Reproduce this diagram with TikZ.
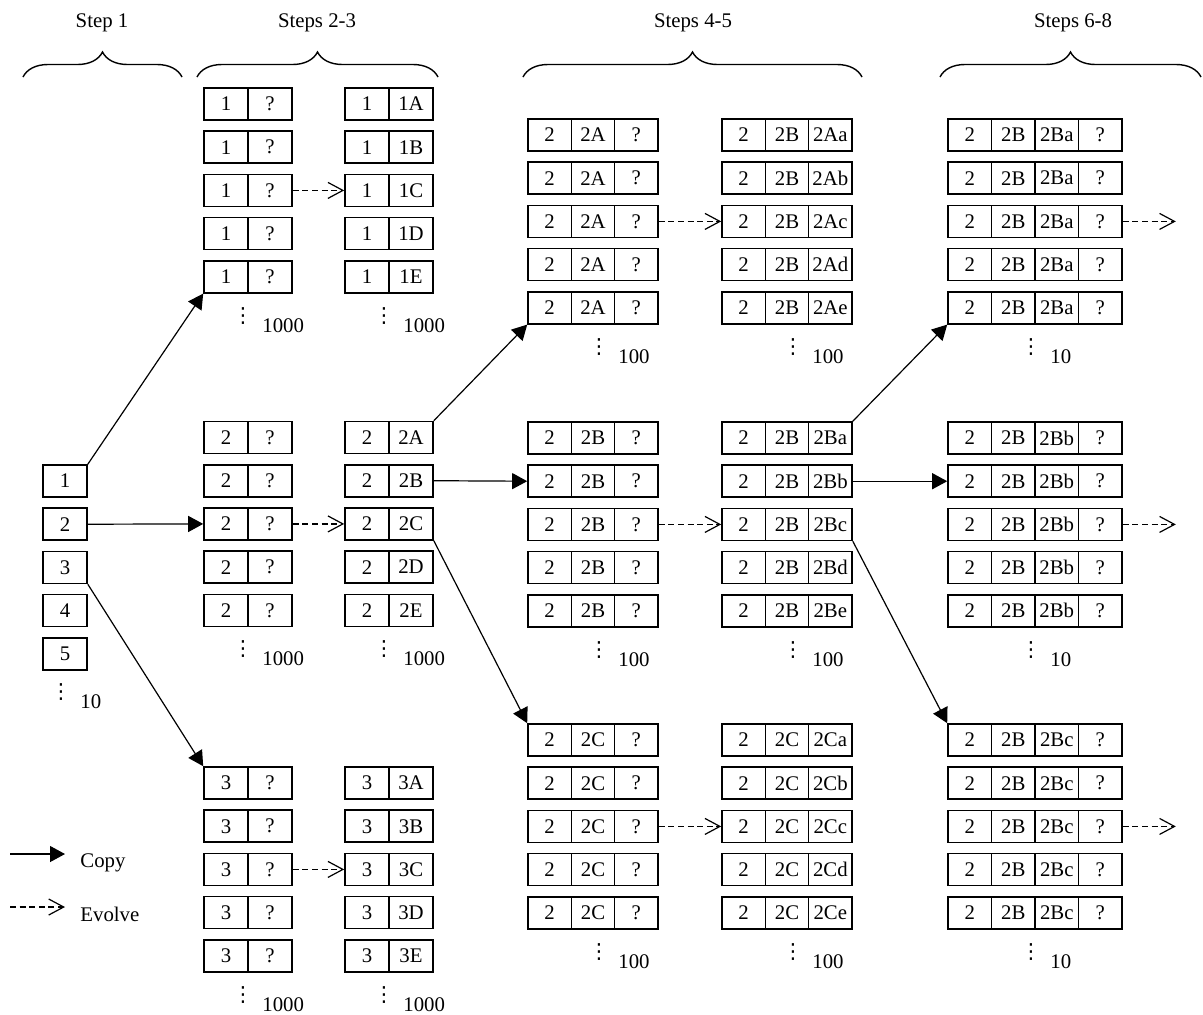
\documentclass[tikz,border=0pt]{standalone}
\usepackage{fontspec}
\setmainfont{Liberation Serif}
\newfontfamily\dotfont{DejaVu Sans}
\usetikzlibrary{arrows.meta,positioning,decorations.pathreplacing}

\tikzset{
  cell/.style={draw,line width=0.8pt,minimum height=16pt,inner sep=0pt},
  copyarrow/.style={line width=0.6pt,-{Triangle[length=7.5pt,width=8pt]}},
  evolvearrow/.style={line width=0.6pt,dash pattern=on 3pt off 1.8pt,-{Straight Barb[length=7.5pt,width=8pt,line width=0.6pt]}},
  stepbrace/.style={decorate,decoration={brace,amplitude=12.5pt},line width=0.7pt},
  vdotnode/.style={anchor=base,inner sep=0pt,font=\dotfont\fontsize{10.4}{12}\selectfont},
  countnode/.style={anchor=base west,inner sep=0pt},
}

% one column of five rows: name, left x, first row y, cell width, cell texts
\newcommand{\cellcol}[5]{%
  \foreach \r/\lo/\up in {1/a/A,2/b/B,3/c/C,4/d/D,5/e/E}{%
    \foreach \t [count=\c] in {#5}{%
      \node[cell,minimum width=#4*0.5pt] (#1-\r-\c) at ({#2+(\c-0.5)*#4},{#3+(\r-1)*43.2}) {\t};
    }%
  }%
}

\begin{document}
\begin{tikzpicture}[x=0.5pt,y=-0.5pt,font=\fontsize{10.4}{12}\selectfont]
\useasboundingbox (0,0) rectangle (1203,1014);

% headers
\node (h1) at (102,23) {Step 1};
\node (h2) at (317,23) {Steps 2-3};
\node (h3) at (693,23) {Steps 4-5};
\node (h4) at (1073,23) {Steps 6-8};
\draw[stepbrace] (23,77) -- (182,77);
\draw[stepbrace] (197,77) -- (438,77);
\draw[stepbrace] (523,77) -- (862,77);
\draw[stepbrace] (940,77) -- (1201,77);

% columns
\cellcol{s1}{43}{481}{44}{\r}
\cellcol{pa}{204}{104}{44}{1,?}
\cellcol{qa}{345}{104}{44}{1,1\up}
\cellcol{pb}{204}{437.5}{44}{2,?}
\cellcol{qb}{345}{437.5}{44}{2,2\up}
\cellcol{pc}{204}{783}{44}{3,?}
\cellcol{qc}{345}{783}{44}{3,3\up}
\cellcol{ra}{528}{135}{43.33}{2,2A,?}
\cellcol{sa}{722}{135}{43.33}{2,2B,2A\lo}
\cellcol{rb}{528}{438}{43.33}{2,2B,?}
\cellcol{sb}{722}{438}{43.33}{2,2B,2B\lo}
\cellcol{rc}{528}{740}{43.33}{2,2C,?}
\cellcol{sc}{722}{740}{43.33}{2,2C,2C\lo}
\cellcol{wa}{948}{135}{43.5}{2,2B,2Ba,?}
\cellcol{wb}{948}{438}{43.5}{2,2B,2Bb,?}
\cellcol{wc}{948}{740}{43.5}{2,2B,2Bc,?}

% more rows
\foreach \n/\x/\y/\k in {s1/61/698/10,pa/243/322/1000,qa/384/322/1000,pb/243/655/1000,qb/384/655/1000,
  pc/243/1001/1000,qc/384/1001/1000,ra/599/353/100,sa/793/353/100,rb/599/656/100,sb/793/656/100,
  rc/599/958/100,sc/793/958/100,wa/1031/353/10,wb/1031/656/10,wc/1031/958/10}{
  \node[vdotnode] (\n-dots) at (\x,\y) {⋮};
  \node[countnode] (\n-count) at (\x+19,\y+10) {\k};
}

% copy
\draw[copyarrow] (s1-1-1.north east) -- (pa-5-1.south west);
\draw[copyarrow] (s1-2-1.east) -- (pb-3-1.west);
\draw[copyarrow] (s1-3-1.south east) -- (pc-1-1.north west);
\draw[copyarrow] (qb-1-2.north east) -- (ra-5-1.south west);
\draw[copyarrow] (qb-2-2.east) -- (rb-2-1.west);
\draw[copyarrow] (qb-3-2.south east) -- (rc-1-1.north west);
\draw[copyarrow] (sb-1-3.north east) -- (wa-5-1.south west);
\draw[copyarrow] (sb-2-3.east) -- (wb-2-1.west);
\draw[copyarrow] (sb-3-3.south east) -- (wc-1-1.north west);

% evolve
\foreach \a/\b/\k in {pa/qa/2,pb/qb/2,pc/qc/2,ra/sa/3,rb/sb/3,rc/sc/3}
  \draw[evolvearrow] (\a-3-\k.east) -- (\b-3-1.west);
\foreach \a in {wa,wb,wc}{
  \coordinate (\a-out) at ([xshift=26.5pt]\a-3-4.east);
  \draw[evolvearrow] (\a-3-4.east) -- (\a-out);
}

% legend
\coordinate (copy-a) at (10,854);
\coordinate (copy-b) at (65,854);
\draw[copyarrow] (copy-a) -- (copy-b);
\node[countnode] (copy-lab) at (80,867) {Copy};
\coordinate (evolve-a) at (10,907);
\coordinate (evolve-b) at (65,907);
\draw[evolvearrow] (evolve-a) -- (evolve-b);
\node[countnode] (evolve-lab) at (80,921) {Evolve};
\end{tikzpicture}
\end{document}
